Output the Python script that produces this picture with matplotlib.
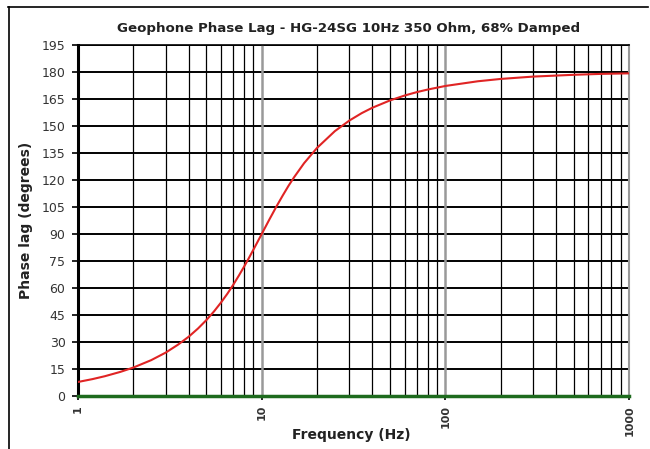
import matplotlib
matplotlib.use("Agg")
import matplotlib.pyplot as plt
from matplotlib.ticker import FixedLocator, NullFormatter
from matplotlib.lines import Line2D

freq_hz = [1, 1.2, 1.4, 1.7, 2, 2.5, 3, 3.5, 4, 4.5, 5, 5.5, 6, 6.5, 7, 7.5,
           8, 8.5, 9, 9.5, 10, 11, 12, 13, 14, 15, 17, 20, 25, 30, 35, 40, 50,
           60, 70, 80, 100, 150, 200, 300, 500, 700, 1000]
phase_deg = [7.8, 9.4, 11.0, 13.4, 15.8, 19.9, 24.1, 28.5, 32.9, 37.5, 42.2,
             47.0, 51.9, 56.8, 61.8, 66.8, 71.7, 76.5, 81.2, 85.7, 90.0, 98.0,
             105.1, 111.3, 116.8, 121.5, 129.3, 137.8, 147.1, 153.0, 157.1,
             160.1, 164.2, 166.9, 168.8, 170.2, 172.2, 174.8, 176.1, 177.4,
             178.4, 178.9, 179.2]
baseline_freq = [1, 1000]
baseline_deg = [0, 0]
y_ticks = list(range(0, 196, 15))
x_major = [1, 10, 100, 1000]
x_labels = ["1", "10", "100", "1000"]
x_minor = [m * d for d in (1, 10, 100) for m in range(2, 10)]

title = "Geophone Phase Lag - HG-24SG 10Hz 350 Ohm, 68% Damped"

fig = plt.figure(figsize=(6.5, 4.49), dpi=100)
ax = fig.add_axes([0.12, 0.118, 0.848, 0.782])
ax.set_xscale("log")
ax.set_xlim(1, 1000)
ax.set_ylim(0, 195)

# grid
for y in y_ticks[1:]:
    ax.axhline(y, color="black", lw=1.4, zorder=1)
for x in x_minor:
    ax.axvline(x, color="black", lw=0.9, zorder=1)
for x in x_major[1:-1]:
    ax.axvline(x, color="#999999", lw=1.8, zorder=1)

ax.plot(freq_hz, phase_deg, color="#e02424", lw=1.5, zorder=3)
ax.plot(baseline_freq, baseline_deg, color="#1e6b1e", lw=2.5, zorder=4,
        clip_on=False)

ax.xaxis.set_major_locator(FixedLocator(x_major))
ax.set_xticklabels(x_labels, rotation=90, fontsize=8, fontweight="bold",
                   color="#333333")
ax.xaxis.set_minor_locator(FixedLocator(x_minor))
ax.xaxis.set_minor_formatter(NullFormatter())
ax.tick_params(axis="x", which="minor", length=0)
ax.tick_params(axis="x", which="major", length=3, width=1.2, direction="out")
ax.set_yticks(y_ticks)
ax.set_yticklabels([str(v) for v in y_ticks], fontsize=9, color="#333333")
ax.tick_params(axis="y", length=4, width=1.2, direction="out", pad=5)

ax.spines["top"].set_color("black")
ax.spines["top"].set_linewidth(1.2)
ax.spines["right"].set_color("#999999")
ax.spines["right"].set_linewidth(1.5)
ax.spines["left"].set_color("black")
ax.spines["left"].set_linewidth(2.2)
ax.spines["bottom"].set_visible(False)

fig.text(0.54, 0.031, "Frequency (Hz)", ha="center", va="center",
         fontsize=10, fontweight="bold", color="#222222")
ax.set_ylabel("Phase lag (degrees)", fontsize=10, fontweight="bold",
              color="#222222", labelpad=6)
fig.text(0.537, 0.937, title, ha="center", va="center", fontsize=9.6,
         fontweight="bold", color="#222222")

# outer frame lines (top and left)
fig.add_artist(Line2D([0.012, 0.997], [0.985, 0.985], color="black", lw=1.2,
                      transform=fig.transFigure))
fig.add_artist(Line2D([0.014, 0.014], [0.0, 0.985], color="black", lw=1.2,
                      transform=fig.transFigure))

fig.savefig("out.png", dpi=100)
